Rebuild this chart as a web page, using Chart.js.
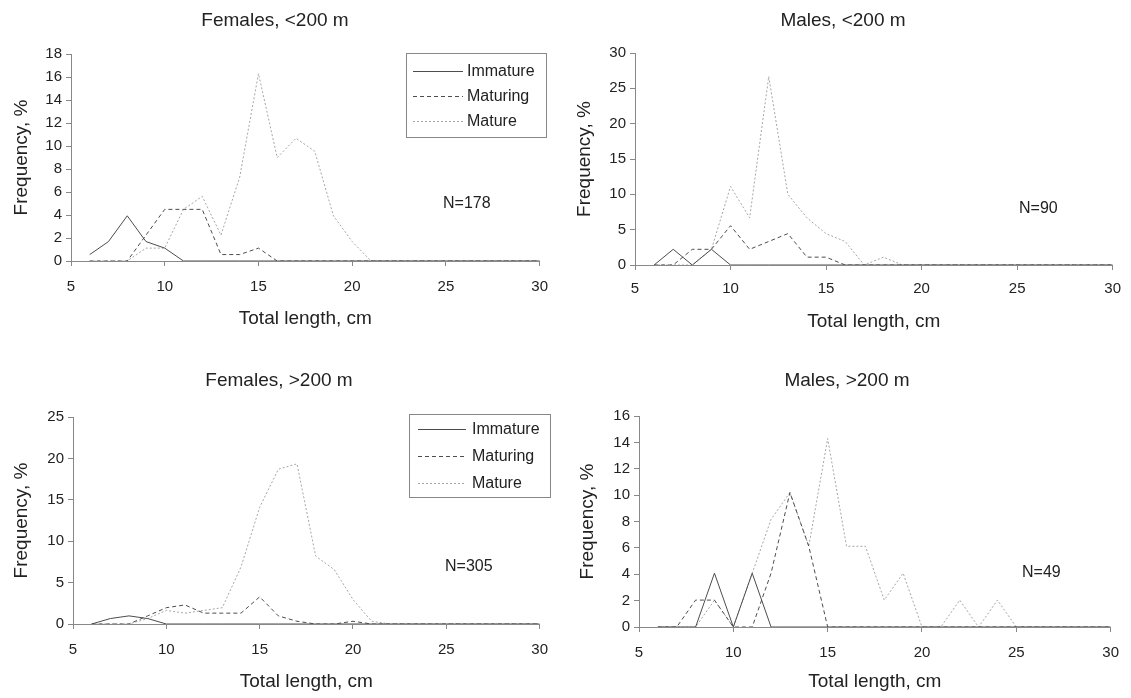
<!DOCTYPE html>
<html>
<head>
<meta charset="utf-8">
<script src="https://cdn.jsdelivr.net/npm/chart.js@4/dist/chart.umd.min.js"></script>
<style>
  body { margin: 0; background: #fff; width: 1131px; height: 698px; position: relative; overflow: hidden; }
  canvas { position: absolute; }
</style>
</head>
<body>
<canvas id="femShallow" width="560" height="340" style="left:0;top:0"></canvas>
<canvas id="maleShallow" width="571" height="340" style="left:560px;top:0"></canvas>
<canvas id="femDeep" width="560" height="358" style="left:0;top:340px"></canvas>
<canvas id="maleDeep" width="571" height="358" style="left:560px;top:340px"></canvas>
<script>
// total length classes, cm
const lengths = [6, 7, 8, 9, 10, 11, 12, 13, 14, 15, 16, 17, 18, 19, 20, 21, 22, 23, 24, 25, 26, 27, 28, 29, 30];
const lengthTicks = [5, 10, 15, 20, 25, 30];
const stageNames = ["Immature", "Maturing", "Mature"];

// Females, <200 m (N=178)
const femShallowImmature = [0.56, 1.69, 3.93, 1.69, 1.12, 0, 0, 0, 0, 0, 0, 0, 0, 0, 0, 0, 0, 0, 0, 0, 0, 0, 0, 0, 0];
const femShallowMaturing = [0, 0, 0, 2.25, 4.49, 4.49, 4.49, 0.56, 0.56, 1.12, 0, 0, 0, 0, 0, 0, 0, 0, 0, 0, 0, 0, 0, 0, 0];
const femShallowMature = [0, 0, 0, 1.12, 1.12, 4.49, 5.62, 2.25, 7.3, 16.29, 8.99, 10.67, 9.55, 3.93, 1.69, 0, 0, 0, 0, 0, 0, 0, 0, 0, 0];
const femShallowTicks = [0, 2, 4, 6, 8, 10, 12, 14, 16, 18];

// Males, <200 m (N=90)
const maleShallowImmature = [0, 2.22, 0, 2.22, 0, 0, 0, 0, 0, 0, 0, 0, 0, 0, 0, 0, 0, 0, 0, 0, 0, 0, 0, 0, 0];
const maleShallowMaturing = [0, 0, 2.22, 2.22, 5.56, 2.22, 3.33, 4.44, 1.11, 1.11, 0, 0, 0, 0, 0, 0, 0, 0, 0, 0, 0, 0, 0, 0, 0];
const maleShallowMature = [0, 0, 0, 2.22, 11.11, 6.67, 26.67, 10.0, 6.67, 4.44, 3.33, 0, 1.11, 0, 0, 0, 0, 0, 0, 0, 0, 0, 0, 0, 0];
const maleShallowTicks = [0, 5, 10, 15, 20, 25, 30];

// Females, >200 m (N=305)
const femDeepImmature = [0, 0.66, 0.98, 0.66, 0, 0, 0, 0, 0, 0, 0, 0, 0, 0, 0, 0, 0, 0, 0, 0, 0, 0, 0, 0, 0];
const femDeepMaturing = [0, 0, 0, 0.98, 1.97, 2.3, 1.31, 1.31, 1.31, 3.28, 0.98, 0.33, 0, 0, 0.33, 0, 0, 0, 0, 0, 0, 0, 0, 0, 0];
const femDeepMature = [0, 0, 0, 0.66, 1.64, 1.31, 1.64, 1.97, 6.89, 14.1, 18.69, 19.34, 8.2, 6.56, 2.95, 0.33, 0, 0, 0, 0, 0, 0, 0, 0, 0];
const femDeepTicks = [0, 5, 10, 15, 20, 25];

// Males, >200 m (N=49)
const maleDeepImmature = [0, 0, 0, 4.08, 0, 4.08, 0, 0, 0, 0, 0, 0, 0, 0, 0, 0, 0, 0, 0, 0, 0, 0, 0, 0, 0];
const maleDeepMaturing = [0, 0, 2.04, 2.04, 0, 0, 4.08, 10.2, 6.12, 0, 0, 0, 0, 0, 0, 0, 0, 0, 0, 0, 0, 0, 0, 0, 0];
const maleDeepMature = [0, 0, 0, 2.04, 0, 4.08, 8.16, 10.2, 6.12, 14.29, 6.12, 6.12, 2.04, 4.08, 0, 0, 2.04, 0, 2.04, 0, 0, 0, 0, 0, 0];
const maleDeepTicks = [0, 2, 4, 6, 8, 10, 12, 14, 16];

const FONT = "'Liberation Sans', Arial, sans-serif";
Chart.defaults.font.family = FONT;
Chart.defaults.color = "#222";

const lineStyles = [
  { color: "#4d4d4d", dash: [] },
  { color: "#4d4d4d", dash: [4, 3] },
  { color: "#a6a6a6", dash: [2, 2] }
];

// panel title, N label and boxed legend
const decorPlugin = {
  id: "decor",
  afterDraw(chart, args, opts) {
    const ctx = chart.ctx;
    ctx.save();
    ctx.fillStyle = "#222";
    ctx.textBaseline = "middle";
    ctx.textAlign = "center";
    ctx.font = "19px " + FONT;
    ctx.fillText(opts.title, opts.titleX, opts.titleY);
    ctx.textAlign = "left";
    ctx.font = "16px " + FONT;
    ctx.fillText(opts.n, opts.nX, opts.nY);
    const lg = opts.legend;
    if (lg) {
      ctx.strokeStyle = "#888";
      ctx.lineWidth = 1;
      ctx.strokeRect(lg.x + 0.5, lg.y + 0.5, lg.w, lg.h);
      chart.data.datasets.forEach((ds, i) => {
        const y = Math.round(lg.rows[i]) + 0.5;
        ctx.strokeStyle = ds.borderColor;
        ctx.setLineDash(ds.borderDash);
        ctx.beginPath();
        ctx.moveTo(lg.x0, y);
        ctx.lineTo(lg.x1, y);
        ctx.stroke();
        ctx.setLineDash([]);
        ctx.fillText(ds.label, lg.tx, y);
      });
    }
    ctx.restore();
  }
};

function makePanel(id, series, yTicks, p) {
  const canvas = document.getElementById(id);
  const W = canvas.width, H = canvas.height;
  const datasets = series.map((vals, i) => ({
    label: stageNames[i],
    data: lengths.map((x, j) => ({ x: x, y: vals[j] })),
    borderColor: lineStyles[i].color,
    borderDash: lineStyles[i].dash,
    borderWidth: 1,
    pointRadius: 0,
    tension: 0,
    fill: false
  }));

  new Chart(canvas.getContext("2d"), {
    type: "line",
    data: { datasets: datasets },
    plugins: [decorPlugin],
    options: {
      responsive: false,
      animation: false,
      devicePixelRatio: 1,
      layout: { padding: { left: 0, top: p.top, right: W - p.right, bottom: 0 } },
      plugins: {
        legend: { display: false },
        tooltip: { enabled: false },
        decor: p.decor
      },
      scales: {
        x: {
          type: "linear",
          min: lengthTicks[0],
          max: lengthTicks[lengthTicks.length - 1],
          ticks: { stepSize: lengthTicks[1] - lengthTicks[0], padding: p.xTickPad, font: { size: 15 }, color: "#222" },
          grid: { drawOnChartArea: false, drawTicks: true, tickLength: 5, color: "#888" },
          border: { color: "#888" },
          title: { display: true, text: "Total length, cm", font: { size: 19 }, color: "#222", padding: { top: 0, bottom: p.xTitlePad } },
          afterFit(scale) { scale.height = H - p.bottom; }
        },
        y: {
          min: yTicks[0],
          max: yTicks[yTicks.length - 1],
          ticks: { stepSize: yTicks[1] - yTicks[0], padding: 4, font: { size: 15 }, color: "#222" },
          grid: { drawOnChartArea: false, drawTicks: true, tickLength: 5, color: "#888" },
          border: { color: "#888" },
          title: { display: true, text: "Frequency, %", font: { size: 19 }, color: "#222", padding: { top: p.yTitlePad, bottom: 0 } },
          afterFit(scale) { scale.width = p.left; }
        }
      }
    }
  });
}

makePanel("femShallow", [femShallowImmature, femShallowMaturing, femShallowMature], femShallowTicks, {
  left: 71, right: 547, top: 54, bottom: 261, xTickPad: 12, xTitlePad: 10, yTitlePad: 10,
  decor: {
    title: "Females, <200 m", titleX: 275, titleY: 21, n: "N=178", nX: 443, nY: 204,
    legend: { x: 406, y: 53, w: 140, h: 84, rows: [71, 96, 121], x0: 413, x1: 463, tx: 467 }
  }
});

makePanel("maleShallow", [maleShallowImmature, maleShallowMaturing, maleShallowMature], maleShallowTicks, {
  left: 75, right: 554, top: 53, bottom: 265, xTickPad: 10, xTitlePad: 7, yTitlePad: 13,
  decor: { title: "Males, <200 m", titleX: 283, titleY: 21, n: "N=90", nX: 459, nY: 209 }
});

makePanel("femDeep", [femDeepImmature, femDeepMaturing, femDeepMature], femDeepTicks, {
  left: 73, right: 551, top: 77, bottom: 284, xTickPad: 12, xTitlePad: 5, yTitlePad: 10,
  decor: {
    title: "Females, >200 m", titleX: 279, titleY: 41, n: "N=305", nX: 445, nY: 227,
    legend: { x: 409, y: 74, w: 141, h: 83, rows: [89, 116, 143], x0: 418, x1: 466, tx: 472 }
  }
});

makePanel("maleDeep", [maleDeepImmature, maleDeepMaturing, maleDeepMature], maleDeepTicks, {
  left: 79, right: 559, top: 76, bottom: 287, xTickPad: 12, xTitlePad: 5, yTitlePad: 16,
  decor: { title: "Males, >200 m", titleX: 287, titleY: 41, n: "N=49", nX: 462, nY: 233 }
});
</script>
</body>
</html>
